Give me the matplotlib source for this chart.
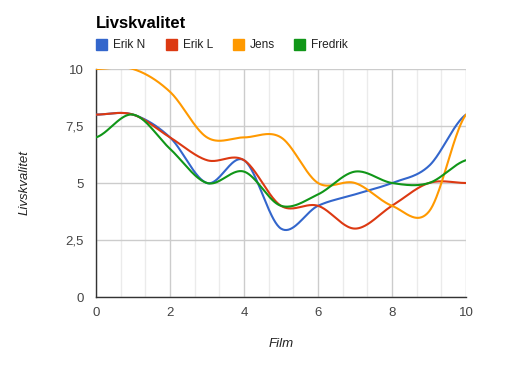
import numpy as np
import matplotlib.pyplot as plt
from matplotlib.ticker import MultipleLocator, FuncFormatter
from matplotlib.patches import Rectangle

plt.rcParams['font.family'] = ['Liberation Sans', 'DejaVu Sans']

# data (one value per film)
films = [0, 1, 2, 3, 4, 5, 6, 7, 8, 9, 10]
erik_n = [8, 8, 7, 5, 6, 3, 4, 4.5, 5, 5.75, 8]
erik_l = [8, 8, 7, 6, 6, 4, 4, 3, 4, 5, 5]
jens = [10, 10, 9, 7, 7, 7, 5, 5, 4, 3.75, 8]
fredrik = [7, 8, 6.5, 5, 5.5, 4, 4.5, 5.5, 5, 5, 6]

names = ['Erik N', 'Erik L', 'Jens', 'Fredrik']
colors = ['#3366cc', '#dc3912', '#ff9900', '#109618']


def smooth(x, y, n=40):
    # catmull-rom style curve through the points (like google's "function" curve)
    x = np.asarray(x, float)
    y = np.asarray(y, float)
    m = np.zeros_like(y)
    m[1:-1] = (y[2:] - y[:-2]) / 2
    m[0] = (y[1] - y[0]) / 2
    m[-1] = (y[-1] - y[-2]) / 2
    xs, ys = [], []
    for i in range(len(x) - 1):
        t = np.linspace(0, 1, n, endpoint=False)
        h00 = 2*t**3 - 3*t**2 + 1
        h10 = t**3 - 2*t**2 + t
        h01 = -2*t**3 + 3*t**2
        h11 = t**3 - t**2
        xs.append(x[i] + t * (x[i+1] - x[i]))
        ys.append(h00*y[i] + h10*m[i] + h01*y[i+1] + h11*m[i+1])
    xs.append([x[-1]])
    ys.append([y[-1]])
    return np.concatenate(xs), np.concatenate(ys)


fig = plt.figure(figsize=(5.14, 3.67), dpi=100)
ax = fig.add_axes([96/514, 70/367, 370/514, 228/367])

for vals, name, c in zip([erik_n, erik_l, jens, fredrik], names, colors):
    sx, sy = smooth(films, vals)
    ax.plot(sx, sy, color=c, lw=1.5, label=name, solid_capstyle='round', zorder=3)

ax.set_xlim(0, 10)
ax.set_ylim(0, 10)
ax.xaxis.set_major_locator(MultipleLocator(2))
ax.xaxis.set_minor_locator(MultipleLocator(2/3))
ax.yaxis.set_major_locator(MultipleLocator(2.5))
ax.yaxis.set_major_formatter(FuncFormatter(lambda v, p: ('%g' % v).replace('.', ',')))
ax.grid(which='major', color='#cccccc', lw=1, zorder=0)
ax.grid(which='minor', axis='x', color='#ebebeb', lw=1, zorder=0)
ax.tick_params(which='both', length=0, labelsize=9.5, labelcolor='#444444')
ax.tick_params(axis='y', pad=8.6)
ax.tick_params(axis='x', pad=7)
for s in ['top', 'right']:
    ax.spines[s].set_visible(False)
for s in ['left', 'bottom']:
    ax.spines[s].set_color('#333333')
    ax.spines[s].set_linewidth(1)

ax.set_xlabel('Film', style='italic', fontsize=9.5, color='#222222', labelpad=14)
ax.set_ylabel('Livskvalitet', style='italic', fontsize=9.5, color='#222222', labelpad=25)

fig.text(96/514, 1 - 24/367, 'Livskvalitet', fontsize=12, fontweight='bold',
         color='#000000', va='center', ha='left')

# legend row
leg_x = [96, 166, 233, 294]
for lx, name, c in zip(leg_x, names, colors):
    fig.patches.append(Rectangle((lx/514, 1 - 50/367), 10.7/514, 10.7/367,
                                 transform=fig.transFigure, color=c))
    fig.text((lx + 16.8)/514, 1 - 44.7/367, name, fontsize=8.6, color='#222222',
             va='center', ha='left')

fig.savefig('out.png', dpi=100)
